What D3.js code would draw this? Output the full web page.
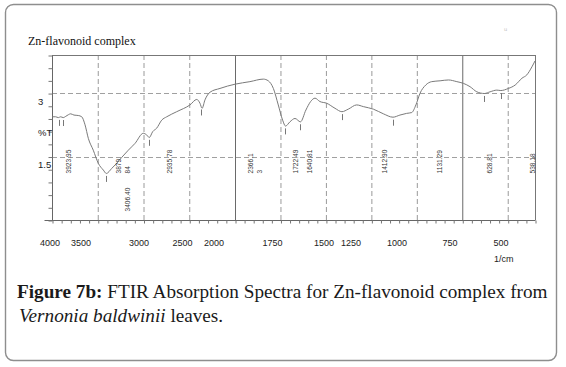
<!DOCTYPE html>
<html><head><meta charset="utf-8">
<script src="https://cdn.jsdelivr.net/npm/d3@7"></script>
<style>
html,body{margin:0;padding:0;background:#fff;}
svg{display:block;}
</style></head>
<body>
<svg id="chart" width="566" height="367"></svg>
<script>
// ---- data ----
const wavenumber = [3997,3960,3931,3905,3877,3850,3820,3796,3760,3713,3675,3639,3603,3549,3494,3439,3406,3347,3293,3238,3166,3093,3002,2965,2937,2899,2856,2801,2746,2637,2492,2418,2383,2360,2328,2273,2164,2000,1918,1844,1817,1789,1762,1738,1722,1698,1670,1640,1610,1584,1560,1533,1496,1450,1412,1377,1331,1294,1239,1184,1131,1093,1056,1028,1005,983,951,918,872,826,780,744,707,670,628,597,560,538,496,459,422,395,367,350];
const transmittance = [2.44,2.44,2.42,2.44,2.42,2.45,2.49,2.51,2.48,2.47,2.44,2.25,1.93,1.65,1.34,1.18,1.10,1.22,1.34,1.48,1.65,1.81,2.05,2.01,1.95,2.09,2.17,2.36,2.44,2.56,2.72,2.85,2.76,2.64,2.84,3.02,3.11,3.21,3.27,3.33,3.29,3.11,2.72,2.36,2.22,2.32,2.40,2.32,2.60,2.80,2.88,2.80,2.76,2.64,2.56,2.62,2.72,2.68,2.62,2.51,2.43,2.48,2.52,2.54,2.72,2.99,3.19,3.27,3.29,3.31,3.27,3.23,3.15,3.03,2.99,3.03,3.07,3.06,3.11,3.19,3.35,3.43,3.62,3.76];

const peakWavenumbers = [3923.95,3879.84,3406.40,2935.78,2366.13,1722.49,1640.81,1412.90,1131.29,628.81,538.18];
const peakLabels = [["3923.95"],["3879","84"],["3406.40"],["2935.78"],["2366.1","3"],["1722.49"],["1640.81"],["1412.90"],["1131.29"],["628.81"],["538.18"]];
const peakLabelAt = [3821,3269,3176,2714,1912,1668,1588,1177,874,600,365];
const peakLabelLevel = [1.1,1.1,0.2,1.1,1.1,1.1,1.1,1.1,1.1,1.1,1.1];

const xDomain = [4000,2000,350];
const xGridDashed = [3500,3000,2500,1750,1500,1250,1000,500];
const xGridSolid = [2000,750];
const xTickLabels = ["4000","3500","3000","2500","2000","1750","1500","1250","1000","750","500"];
const xTickLabelAt = [4022,3683,3049,2574,2230,1794,1510,1362,1109,817,537];
const xMinorTicks = d3.range(4000,2000,-100).concat(d3.range(2000,349,-50));
const yDomain = [0,3.9];
const yTicks = d3.range(0,3.91,0.3);
const yGrid = [3,1.5];
const yLabels = ["3","%T","1.5"];
const yLabelAt = [3,2.25,1.5];

const chartTitle = "Zn-flavonoid complex";
const xUnit = "1/cm";

// ---- layout ----
const svg = d3.select("#chart");
const L = 52, R = 535, T = 55, B = 220;
const x = d3.scaleLinear().domain(xDomain).range([L, L + 183, R]);
const y = d3.scaleLinear().domain(yDomain).range([B, T]);

// frame
svg.append("rect").attr("x",5.5).attr("y",4.5).attr("width",551).attr("height",356)
  .attr("rx",8).attr("fill","none").attr("stroke","#8e8e8e").attr("stroke-width",1.4);

// title
svg.append("text").attr("x",28).attr("y",45).attr("font-family","'Liberation Serif','Times New Roman',serif")
  .attr("font-size",12).attr("fill","#111").text(chartTitle);
svg.append("text").attr("x",504).attr("y",31).attr("font-family","'DejaVu Sans',sans-serif")
  .attr("font-size",5).attr("fill","#bbb").text("u");

// grid
const g = svg.append("g");
g.selectAll(".gd").data(xGridDashed).join("line")
  .attr("x1",d=>x(d)+0.5).attr("x2",d=>x(d)+0.5).attr("y1",T).attr("y2",B)
  .attr("stroke","#9a9a9a").attr("stroke-width",1).attr("stroke-dasharray","5,3");
g.selectAll(".gs").data(xGridSolid).join("line")
  .attr("x1",d=>x(d)+0.5).attr("x2",d=>x(d)+0.5).attr("y1",T).attr("y2",B)
  .attr("stroke","#6a6a6a").attr("stroke-width",1);
g.selectAll(".gy").data(yGrid).join("line")
  .attr("x1",L).attr("x2",R).attr("y1",d=>Math.round(y(d))+0.5).attr("y2",d=>Math.round(y(d))+0.5)
  .attr("stroke","#a0a0a0").attr("stroke-width",1).attr("stroke-dasharray","5,3");

// box: top + right
svg.append("line").attr("x1",L).attr("x2",R+0.5).attr("y1",T+0.5).attr("y2",T+0.5).attr("stroke","#777");
svg.append("line").attr("x1",R+0.5).attr("x2",R+0.5).attr("y1",T).attr("y2",B).attr("stroke","#777");

// axes
const xAxis = d3.axisBottom(x).tickValues(xMinorTicks).tickSize(3).tickFormat("");
const gx = svg.append("g").attr("transform",`translate(0.5,${B+0.5})`).call(xAxis);
gx.select(".domain").attr("d",`M${L-8},0H${R}`).attr("stroke","#666");
gx.selectAll(".tick line").attr("stroke","#777");
const yAxis = d3.axisLeft(y).tickValues(yTicks).tickSize(4).tickFormat("");
const gy = svg.append("g").attr("transform",`translate(${L+0.5},0.5)`).call(yAxis);
gy.select(".domain").attr("d",`M0,${T}V${B}`).attr("stroke","#666");
gy.selectAll(".tick line").attr("stroke","#777");

// tick labels
svg.selectAll(".xl").data(xTickLabels).join("text")
  .attr("x",(d,i)=>x(xTickLabelAt[i])).attr("y",246)
  .attr("text-anchor","middle").attr("font-family","'Liberation Sans',Arial,sans-serif")
  .attr("font-size",9).attr("fill","#222").text(d=>d);
svg.append("text").attr("x",494).attr("y",262).attr("font-family","'Liberation Sans',Arial,sans-serif")
  .attr("font-size",9).attr("fill","#222").text(xUnit);
svg.selectAll(".yl").data(yLabels).join("text")
  .attr("x",38).attr("y",(d,i)=>y(yLabelAt[i])+11.5)
  .attr("font-family","'Liberation Sans',Arial,sans-serif")
  .attr("font-size",9.5).attr("fill","#222").text(d=>d);

// spectrum
const pts = wavenumber.map((w,i)=>[w,transmittance[i]]);
const line = d3.line().x(d=>x(d[0])).y(d=>y(d[1])).curve(d3.curveMonotoneX);
svg.append("path").datum(pts).attr("d",line).attr("fill","none")
  .attr("stroke","#7a7a7a").attr("stroke-width",1);

// peak ticks
function tAt(w){
  for(let i=0;i<wavenumber.length-1;i++){
    const a=wavenumber[i], b=wavenumber[i+1];
    if(w<=a && w>=b){const f=(a-w)/(a-b);return transmittance[i]+f*(transmittance[i+1]-transmittance[i]);}
  }
  return transmittance[transmittance.length-1];
}
svg.selectAll(".pk").data(peakWavenumbers).join("line")
  .attr("x1",d=>Math.round(x(d))+0.5).attr("x2",d=>Math.round(x(d))+0.5)
  .attr("y1",d=>y(tAt(d))+2.5).attr("y2",d=>y(tAt(d))+8.5)
  .attr("stroke","#777").attr("stroke-width",1);

// peak labels
const pl = svg.selectAll(".pl").data(peakLabels).join("text")
  .attr("transform",(d,i)=>`translate(${x(peakLabelAt[i])},${y(peakLabelLevel[i])}) rotate(-90)`)
  .attr("font-family","'Liberation Sans',Arial,sans-serif").attr("font-size",6.6).attr("fill","#333");
pl.each(function(d){
  const t=d3.select(this);
  d.forEach((s,j)=>{t.append("tspan").attr("x",0).attr("dy",j===0?"0.35em":"1.3em").text(s);});
});

// caption
const cap = svg.append("text").attr("x",17).attr("y",298)
  .attr("font-family","'Liberation Serif','Times New Roman',serif").attr("font-size",19.2).attr("fill","#1a1a1a");
cap.append("tspan").attr("font-weight","bold").text("Figure 7b:");
cap.append("tspan").text(" FTIR Absorption Spectra for Zn-flavonoid complex from");
const cap2 = svg.append("text").attr("x",19).attr("y",322)
  .attr("font-family","'Liberation Serif','Times New Roman',serif").attr("font-size",19.2).attr("fill","#1a1a1a");
cap2.append("tspan").attr("font-style","italic").text("Vernonia baldwinii");
cap2.append("tspan").text(" leaves.");
</script>
</body></html>
